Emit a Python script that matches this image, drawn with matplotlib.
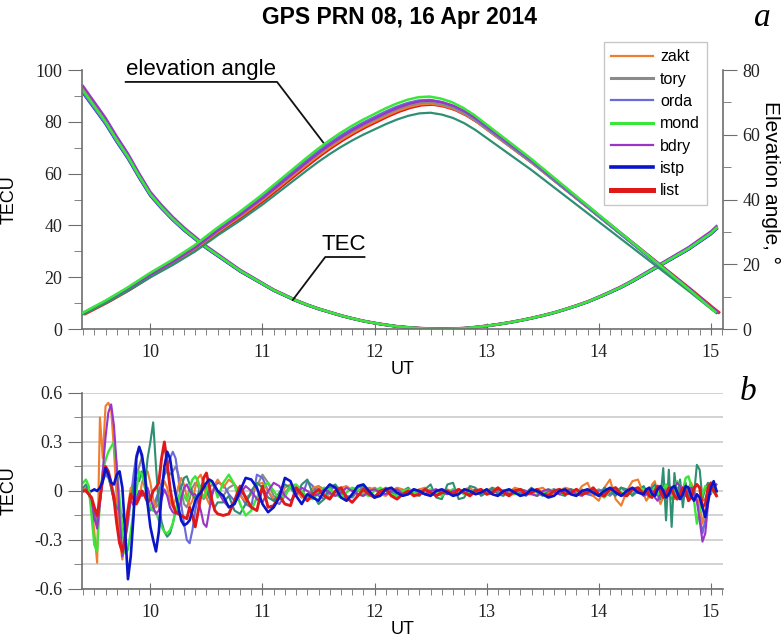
import numpy as np
import matplotlib
matplotlib.use("Agg")
import matplotlib.pyplot as plt
from matplotlib.lines import Line2D
from matplotlib.ticker import MultipleLocator

plt.rcParams['font.family'] = ['Liberation Sans', 'DejaVu Sans']

# ---------------- panel a: TEC and elevation angle ----------------
ut_top = [9.4, 9.5, 9.6, 9.7, 9.8, 9.9, 10.0, 10.1, 10.2, 10.3,
          10.4, 10.5, 10.6, 10.7, 10.8, 10.9, 11.0, 11.1, 11.2, 11.3,
          11.4, 11.5, 11.6, 11.7, 11.8, 11.9, 12.0, 12.1, 12.2, 12.3,
          12.4, 12.5, 12.6, 12.7, 12.8, 12.9, 13.0, 13.1, 13.2, 13.3,
          13.4, 13.5, 13.6, 13.7, 13.8, 13.9, 14.0, 14.1, 14.2, 14.3,
          14.4, 14.5, 14.6, 14.7, 14.8, 14.9, 15.0, 15.05]
tec_base = [92, 86, 80, 73, 66.5, 59, 52, 47, 42.5, 38.5,
            35, 31.5, 28.5, 25.5, 22.5, 20, 17.5, 15, 13, 11,
            9.3, 7.8, 6.5, 5.2, 4.1, 3.1, 2.3, 1.6, 1.0, 0.6,
            0.3, 0.1, 0.0, 0.1, 0.3, 0.7, 1.2, 1.8, 2.5, 3.3,
            4.2, 5.2, 6.3, 7.6, 9.0, 10.5, 12.3, 14.2, 16.2, 18.5,
            21, 23.5, 26, 28.5, 31, 34, 37, 39]
elev_base = [4.8, 6.6, 8.4, 10.4, 12.4, 14.6, 16.8, 18.8, 20.8, 23.0,
             25.2, 27.8, 30.4, 32.8, 35.2, 37.8, 40.4, 43.2, 46.0, 48.8,
             51.6, 54.3, 56.8, 59.1, 61.2, 63.1, 64.8, 66.5, 68.0, 69.2,
             70.0, 70.2, 69.6, 68.5, 66.8, 64.6, 62.0, 59.4, 56.8, 54.2,
             51.6, 48.8, 46.0, 43.2, 40.4, 37.6, 34.8, 32.0, 29.2, 26.4,
             23.6, 20.8, 18.0, 15.2, 12.4, 9.5, 6.6, 5.2]

stations = ['list', 'istp', 'zakt', 'tory', 'orda', 'bdry', 'extra', 'mond']
elev_peak = [69.4, 70.4, 69.6, 70.0, 70.8, 70.6, 66.8, 71.8]   # deg, per station
elev_shift = [0.02, 0.0, 0.01, 0.0, -0.01, 0.01, 0.0, -0.01]   # h
tec_scale = [1.0, 0.99, 1.01, 1.0, 0.99, 1.02, 1.0, 1.0]

colors = {'zakt': '#f07c2e', 'tory': '#8a8a8a', 'orda': '#6a6ad8',
          'mond': '#3ae63a', 'bdry': '#9a35c8', 'istp': '#0a14c8',
          'list': '#e01818', 'extra': '#2f8f72'}
widths = {'zakt': 1.6, 'tory': 1.6, 'orda': 1.6, 'mond': 1.8, 'bdry': 1.6,
          'istp': 2.0, 'list': 2.2, 'extra': 1.6}

# ---------------- panel b: detrended TEC ----------------
ut_bot = np.concatenate([np.linspace(9.4, 10.6, 49),
                         np.linspace(10.65, 14.4, 76),
                         np.linspace(14.425, 15.05, 26)])
nan = np.nan

dtec_zakt = [
    0.00, 0.02, -0.02, -0.08, -0.25, -0.44, 0.45, 0.20, 0.52, 0.54,
    0.50, 0.25, -0.05, -0.30, -0.42, -0.30, -0.10, 0.02, 0.00, -0.08,
    -0.05, 0.05, 0.10, 0.12, 0.05, -0.05, -0.10, -0.08, 0.00, 0.06,
    0.02, -0.06, -0.10, -0.05, 0.03, 0.08, 0.04, -0.04, -0.09, -0.06,
    0.02, 0.08, 0.10, 0.04, -0.04, -0.08, -0.03, 0.04, 0.07,
    0.02, 0.07, 0.04, -0.03, -0.06, -0.02, 0.04, 0.05, 0.00, -0.05,
    -0.04, 0.02, 0.04, 0.00, -0.04, -0.03, 0.02, 0.03, -0.01, -0.04,
    -0.02, 0.02, 0.03, 0.00, -0.03, -0.01, 0.02, 0.01, -0.02, -0.03,
    0.00, 0.02, 0.01, -0.02, -0.01, 0.01, 0.02, -0.01, -0.02, 0.00,
    0.01, -0.01, -0.02, 0.01, 0.02, -0.01, -0.02, 0.00, 0.02, 0.01,
    -0.02, -0.01, 0.02, 0.01, -0.02, -0.02, 0.01, 0.02, -0.01, -0.03,
    0.00, 0.02, 0.01, -0.02, 0.03, 0.05, -0.03, -0.06, 0.02, 0.07,
    -0.05, -0.09, 0.00, 0.06, 0.07, -0.02,
    -0.06, -0.03, 0.04, 0.06, -0.02, -0.08, -0.04, 0.03, 0.05, -0.02,
    -0.05, 0.00, 0.04, 0.01, -0.03, 0.02, 0.05, 0.00, -0.04, -0.08,
    -0.20, -0.12, -0.02, 0.03, 0.01, -0.02]
dtec_tory = [
    0.00, 0.02, 0.00, -0.06, -0.14, -0.18, -0.06, 0.07, 0.12, 0.09,
    0.02, -0.05, -0.12, -0.20, -0.25, -0.22, -0.12, -0.02, 0.06, 0.10,
    0.15, 0.21, 0.12, -0.02, -0.10, -0.12, -0.08, -0.02, 0.04, 0.10,
    0.12, 0.10, 0.12, 0.15, 0.10, 0.00, -0.08, -0.10, -0.05, 0.02,
    0.05, 0.03, -0.02, -0.05, -0.03, 0.02, 0.04, 0.02, -0.02,
    -0.03, 0.02, 0.04, 0.00, -0.04, -0.02, 0.03, 0.10, 0.05, -0.03,
    -0.05, -0.01, 0.03, 0.02, -0.02, -0.04, 0.00, 0.03, 0.01, -0.02,
    -0.03, 0.00, 0.02, 0.01, -0.02, -0.03, 0.00, 0.02, 0.00, -0.02,
    -0.01, 0.01, 0.00, -0.02, -0.01, 0.01, 0.00, -0.02, -0.01, 0.01,
    0.00, -0.02, -0.01, 0.01, 0.00, -0.02, -0.01, 0.01, 0.00, -0.01,
    -0.02, 0.00, 0.01, -0.01, -0.02, 0.00, 0.01, -0.01, -0.02, 0.00,
    0.01, -0.01, -0.02, 0.00, 0.01, -0.02, -0.01, 0.01, -0.01, -0.03,
    0.00, 0.02, -0.01, -0.02, 0.01, 0.00,
    -0.02, 0.00, 0.02, 0.00, -0.02, -0.01, 0.03, -0.04, 0.02, -0.05,
    0.02, 0.00, -0.02, 0.01, 0.02, -0.01, -0.03, 0.00, 0.04, 0.02,
    -0.06, -0.05, 0.00, 0.02, 0.01, -0.01]
dtec_orda = [
    0.00, 0.01, -0.01, -0.05, -0.12, -0.16, -0.06, 0.06, 0.10, 0.08,
    0.03, -0.02, -0.08, -0.18, -0.28, -0.30, -0.20, -0.05, 0.10, 0.22,
    0.27, 0.20, 0.05, -0.08, -0.12, -0.10, -0.05, 0.00, 0.05, 0.10,
    0.15, 0.20, 0.24, 0.20, 0.08, -0.08, -0.20, -0.30, -0.32, -0.24,
    -0.12, -0.04, 0.02, 0.04, 0.00, -0.04, -0.02, 0.03, 0.05,
    0.04, -0.02, -0.06, -0.02, -0.08, -0.10, 0.10, 0.08, 0.00, -0.06,
    -0.08, -0.03, 0.03, 0.01, -0.04, 0.06, 0.03, -0.03, -0.05, 0.00,
    0.03, 0.01, -0.03, -0.04, 0.00, 0.02, -0.01, -0.03, -0.02, 0.01,
    0.01, -0.02, -0.03, 0.00, 0.01, -0.01, -0.02, 0.00, 0.01, -0.02,
    -0.01, 0.01, 0.00, -0.02, -0.01, 0.01, -0.01, -0.02, 0.01, 0.00,
    -0.02, 0.00, 0.01, -0.01, -0.03, 0.00, 0.01, -0.02, -0.02, 0.01,
    0.00, -0.02, -0.01, 0.01, 0.00, -0.02, -0.03, 0.00, 0.01, -0.02,
    -0.01, 0.02, 0.00, -0.02, 0.01, 0.00,
    -0.02, 0.01, 0.02, -0.01, -0.03, 0.00, 0.02, 0.01, -0.02, -0.03,
    0.00, 0.02, 0.00, -0.03, -0.01, 0.02, 0.00, -0.03, -0.06, -0.14,
    -0.26, -0.18, -0.04, 0.03, 0.01, 0.00]
dtec_mond = [
    0.05, 0.07, 0.03, -0.15, -0.33, -0.37, -0.05, 0.12, 0.19, 0.24,
    0.27, 0.30, 0.15, -0.05, -0.23, -0.38, -0.36, -0.25, -0.12, 0.00,
    0.12, 0.10, 0.04, -0.05, -0.10, -0.12, -0.13, -0.18, -0.22, -0.25,
    -0.26, -0.24, -0.20, -0.12, -0.05, 0.00, -0.03, -0.06, 0.02, 0.07,
    0.09, 0.06, 0.00, -0.04, 0.00, 0.05, 0.06, 0.02, -0.04,
    0.05, 0.10, 0.04, -0.08, -0.15, -0.12, -0.04, 0.02, 0.05, 0.00,
    -0.05, -0.03, 0.03, 0.04, 0.00, -0.04, -0.05, -0.01, 0.02, 0.01,
    -0.02, -0.04, -0.01, 0.02, 0.01, -0.02, -0.03, 0.00, 0.02, 0.00,
    -0.02, -0.03, 0.00, 0.01, -0.01, -0.02, 0.00, 0.01, -0.01, -0.03,
    -0.01, 0.01, 0.00, -0.02, -0.01, 0.01, 0.00, -0.02, -0.01, 0.01,
    0.00, -0.02, -0.02, 0.01, 0.00, -0.01, -0.03, -0.01, 0.01, 0.00,
    -0.02, -0.01, 0.01, 0.00, -0.02, -0.01, 0.01, -0.02, -0.04, 0.00,
    0.02, -0.01, -0.03, 0.00, 0.02, 0.01,
    -0.02, -0.04, 0.00, 0.02, -0.01, -0.03, 0.01, 0.04, 0.00, -0.03,
    0.02, 0.06, 0.03, 0.00, 0.08, 0.09, 0.03, -0.06, -0.20, -0.12,
    -0.02, 0.03, 0.01, -0.01, 0.02, 0.00]
dtec_bdry = [
    0.00, 0.01, -0.02, -0.05, -0.16, -0.23, -0.08, 0.12, 0.33, 0.48,
    0.53, 0.40, 0.15, -0.15, -0.40, -0.30, -0.15, -0.05, -0.09, -0.05,
    0.00, -0.03, -0.02, 0.02, -0.04, -0.10, -0.14, -0.12, -0.05, 0.01,
    -0.03, -0.10, -0.13, -0.14, -0.12, -0.05, 0.02, 0.04, 0.00, -0.02,
    -0.02, -0.06, -0.12, -0.20, -0.22, -0.12, -0.02, 0.03, 0.00,
    -0.06, -0.10, -0.08, -0.02, 0.03, 0.00, -0.05, -0.07, 0.00, 0.05,
    0.03, -0.03, -0.06, -0.02, 0.02, 0.00, -0.03, -0.02, 0.01, -0.01,
    -0.03, -0.01, 0.02, 0.00, -0.02, -0.03, 0.00, 0.01, -0.01, -0.02,
    0.00, 0.01, -0.02, -0.01, 0.01, -0.01, -0.02, 0.00, 0.01, -0.01,
    -0.02, 0.00, 0.01, -0.01, -0.02, 0.01, 0.00, -0.02, -0.01, 0.01,
    0.00, -0.02, -0.01, 0.01, 0.00, -0.02, -0.03, 0.00, 0.01, -0.01,
    -0.02, 0.00, 0.01, -0.02, -0.03, 0.00, 0.01, -0.03, -0.02, 0.01,
    0.00, -0.03, -0.02, 0.01, 0.00, -0.03,
    -0.02, 0.01, 0.00, -0.04, -0.06, -0.02, 0.01, -0.01, -0.03, 0.00,
    0.02, 0.05, 0.03, -0.02, -0.03, 0.00, 0.02, -0.02, -0.06, -0.18,
    -0.31, -0.26, -0.08, 0.03, 0.02, 0.04]
dtec_istp = [
    nan, nan, nan, 0.00, 0.01, 0.00, 0.02, 0.06, 0.14, 0.10,
    0.05, 0.04, 0.10, 0.12, 0.02, -0.25, -0.54, -0.40, -0.15, 0.20,
    0.27, 0.22, 0.10, -0.08, -0.22, -0.30, -0.37, -0.25, -0.02, 0.15,
    0.24, 0.20, 0.08, -0.02, -0.10, -0.18, -0.21, -0.20, -0.18, -0.12,
    -0.06, -0.03, -0.01, 0.02, 0.05, 0.07, 0.06, 0.03, 0.00,
    -0.03, -0.10, -0.08, 0.00, 0.08, 0.07, 0.02, -0.08, -0.13, -0.10,
    -0.04, 0.08, 0.06, -0.03, -0.08, -0.02, -0.04, -0.06, 0.00, 0.04,
    0.02, -0.04, -0.06, -0.02, 0.03, 0.04, 0.00, -0.04, -0.03, 0.01,
    0.02, -0.01, -0.03, -0.02, 0.01, 0.00, -0.02, -0.03, 0.00, 0.01,
    -0.01, -0.03, -0.02, 0.01, 0.00, -0.02, -0.01, 0.01, -0.02, -0.03,
    0.00, 0.01, -0.01, -0.03, -0.02, 0.01, 0.00, -0.02, -0.04, -0.03,
    0.00, 0.01, -0.02, -0.03, 0.00, 0.01, -0.01, -0.03, 0.00, 0.02,
    -0.01, -0.03, 0.00, 0.02, -0.01, -0.02,
    0.01, 0.02, -0.02, -0.03, 0.01, 0.03, 0.00, -0.04, -0.02, 0.02,
    0.03, -0.01, -0.05, -0.02, 0.03, 0.02, -0.03, -0.06, -0.02, -0.04,
    -0.10, -0.16, -0.06, 0.02, 0.06, 0.00]
dtec_list = [
    0.00, 0.00, -0.02, -0.04, -0.10, -0.15, -0.05, 0.08, 0.15, 0.12,
    0.05, -0.05, -0.20, -0.32, -0.37, -0.28, -0.12, -0.02, -0.05, -0.08,
    -0.04, 0.00, -0.03, -0.07, -0.05, 0.00, 0.02, 0.05, 0.20, 0.30,
    0.17, 0.02, -0.08, -0.13, -0.14, -0.15, -0.16, -0.17, -0.10, -0.15,
    -0.22, -0.13, -0.03, 0.08, 0.11, 0.03, -0.06, -0.12, -0.14,
    -0.15, -0.14, -0.06, 0.03, -0.04, -0.10, -0.12, 0.03, -0.10, -0.09,
    -0.03, -0.08, -0.09, 0.02, -0.02, -0.06, -0.02, 0.01, -0.03, -0.05,
    0.00, 0.02, -0.04, -0.07, -0.03, 0.01, -0.02, -0.04, 0.00, 0.01,
    -0.03, -0.05, -0.02, 0.00, -0.03, -0.02, 0.01, -0.01, -0.03, -0.01,
    0.00, -0.02, 0.01, -0.01, -0.03, 0.00, 0.01, -0.02, -0.01, 0.02,
    -0.01, -0.03, 0.00, 0.01, -0.02, -0.01, 0.01, -0.02, -0.03, 0.00,
    0.01, -0.02, -0.01, 0.01, -0.02, -0.01, 0.02, -0.02, -0.03, 0.01,
    0.02, -0.02, -0.03, 0.01, 0.02, -0.02,
    0.01, -0.03, -0.04, 0.00, 0.03, 0.00, -0.04, -0.02, 0.02, 0.01,
    -0.03, -0.05, -0.02, 0.02, 0.00, -0.06, -0.04, 0.02, 0.04, 0.02,
    -0.10, -0.08, 0.02, 0.05, 0.00, -0.03]
# unlabelled station drawn in sea green on the original
dtec_extra = [
    0.02, 0.04, 0.00, -0.08, -0.18, -0.20, -0.05, 0.08, 0.14, 0.10,
    0.02, -0.06, -0.10, -0.12, -0.15, -0.20, -0.15, -0.05, 0.03, 0.08,
    0.06, 0.12, 0.02, 0.20, 0.30, 0.42, 0.15, -0.08, -0.19, -0.25,
    -0.28, -0.26, -0.20, -0.12, -0.05, 0.02, 0.08, 0.09, 0.04, -0.02,
    -0.05, -0.02, 0.03, 0.05, 0.02, -0.04, -0.08, -0.10, -0.07,
    -0.07, -0.03, -0.12, -0.14, -0.08, 0.00, 0.05, 0.02, -0.04, -0.06,
    -0.01, 0.04, 0.02, -0.03, 0.04, 0.07, -0.02, -0.08, -0.05, 0.02,
    0.04, -0.01, -0.05, -0.03, 0.02, 0.03, -0.02, -0.04, 0.00, 0.02,
    -0.01, -0.03, 0.00, 0.02, -0.02, -0.03, 0.01, 0.04, -0.04, -0.05,
    0.04, 0.05, -0.05, -0.04, 0.03, 0.02, -0.03, -0.01, 0.02, -0.02,
    -0.03, 0.01, 0.00, -0.02, -0.01, 0.02, -0.01, -0.03, 0.00, 0.01,
    -0.02, -0.03, 0.01, 0.00, -0.02, 0.01, -0.01, -0.03, 0.02, 0.00,
    -0.03, 0.02, 0.01, -0.03, 0.00, 0.03,
    0.00, -0.03, 0.02, 0.04, -0.02, -0.05, 0.14, -0.18, 0.13, -0.22,
    0.11, -0.05, 0.07, -0.10, 0.05, -0.06, 0.03, -0.02, 0.16, 0.13,
    -0.05, 0.02, 0.05, -0.02, 0.03, 0.00]

dtec = {'zakt': dtec_zakt, 'tory': dtec_tory, 'orda': dtec_orda,
        'mond': dtec_mond, 'bdry': dtec_bdry, 'istp': dtec_istp,
        'list': dtec_list, 'extra': dtec_extra}
bottom_order = ['tory', 'orda', 'zakt', 'extra', 'mond', 'bdry', 'list', 'istp']

legend_names = ['zakt', 'tory', 'orda', 'mond', 'bdry', 'istp', 'list']
legend_lw = [1.6, 2.2, 1.6, 2.2, 1.6, 2.6, 3.6]

spine_c = '#6e6e6e'
tick_font = 'Liberation Serif'

fig = plt.figure(figsize=(7.81, 6.37), dpi=100)
ax1 = fig.add_axes([0.105, 0.4835, 0.821, 0.4066])
ax2 = ax1.twinx()
ax3 = fig.add_axes([0.105, 0.0754, 0.821, 0.3077])

ut_top = np.array(ut_top)
for i, st in enumerate(stations):
    tec = np.array(tec_base) * tec_scale[i]
    ax1.plot(ut_top, tec, color=colors[st], lw=widths[st], zorder=2)
    el = np.array(elev_base) * elev_peak[i] / max(elev_base)
    ax2.plot(ut_top + elev_shift[i], el, color=colors[st], lw=widths[st])

for ax in (ax1, ax2, ax3):
    ax.set_xlim(9.39, 15.11)
    ax.xaxis.set_major_locator(MultipleLocator(1))
    ax.xaxis.set_minor_locator(MultipleLocator(0.1))
    for s in ax.spines.values():
        s.set_color(spine_c)
        s.set_linewidth(1.2)
    ax.tick_params(which='both', colors=spine_c, labelcolor='#222222',
                   labelsize=13, labelfontfamily=tick_font)
    ax.tick_params(axis='x', which='major', direction='inout', length=9, pad=6)
    ax.tick_params(axis='x', which='minor', direction='out', length=4)
    ax.tick_params(axis='y', which='major', direction='out', length=10, pad=4)
    ax.tick_params(axis='y', which='minor', direction='out', length=6)

ax1.set_ylim(0, 100)
ax1.yaxis.set_major_locator(MultipleLocator(20))
ax1.yaxis.set_minor_locator(MultipleLocator(10))
ax1.spines['top'].set_visible(False)
ax1.spines['right'].set_visible(False)
ax1.set_ylabel('TECU', fontsize=13)
ax1.yaxis.set_label_coords(-0.1, 0.5)
ax1.set_xlabel('UT', fontsize=13, labelpad=0)

ax2.set_ylim(0, 80)
ax2.yaxis.set_major_locator(MultipleLocator(20))
ax2.yaxis.set_minor_locator(MultipleLocator(10))
ax2.spines['top'].set_visible(False)
ax2.spines['left'].set_visible(False)
ax2.spines['bottom'].set_visible(False)
ax2.tick_params(axis='x', which='both', length=0, labelbottom=False)

# annotations with underline + leader
ax1.text(9.78, 96.0, 'elevation angle', fontsize=16, ha='left', va='bottom')
ax1.plot([9.78, 11.13, 11.56], [95.4, 95.4, 71], color='#111111', lw=1.3,
         clip_on=False, zorder=5)
ax1.text(11.53, 28.6, 'TEC', fontsize=16, ha='left', va='bottom')
ax1.plot([11.91, 11.56, 11.27], [27.8, 27.8, 11.2], color='#111111', lw=1.3,
         zorder=5)

# panel b
ut_bot = np.array(ut_bot)
for st in bottom_order:
    ax3.plot(ut_bot, dtec[st], color=colors[st], lw=widths[st] * 0.95)
ax3.set_ylim(-0.6, 0.6)
ax3.yaxis.set_minor_locator(MultipleLocator(0.15))
ax3.set_yticks([-0.6, -0.3, 0, 0.3, 0.6])
ax3.set_yticklabels(['-0.6', '-0.3', '0', '0.3', '0.6'])
ax3.grid(True, which='both', axis='y', color='#cfcfcf', lw=1.3)
ax3.set_axisbelow(True)
ax3.spines['top'].set_visible(False)
ax3.spines['right'].set_visible(False)
ax3.set_ylabel('TECU', fontsize=13)
ax3.yaxis.set_label_coords(-0.1, 0.5)
ax3.set_xlabel('UT', fontsize=13, labelpad=0)

handles = [Line2D([], [], color=colors[n], lw=w)
           for n, w in zip(legend_names, legend_lw)]
fig.legend(handles, legend_names, loc='upper left',
           bbox_to_anchor=(604 / 781, 1 - 42 / 637), fontsize=11.5,
           frameon=True, fancybox=False, edgecolor='#c8c8c8',
           framealpha=1, handlelength=2.6, handletextpad=0.45,
           labelspacing=0.46, borderpad=0.45, borderaxespad=0)

fig.text(0.512, 0.972, 'GPS PRN 08, 16 Apr 2014', fontsize=16.5,
         fontweight='bold', ha='center', va='center')
fig.text(0.976, 0.972, 'a', fontsize=24, fontstyle='italic',
         family='Liberation Serif', ha='center', va='center')
fig.text(0.958, 0.385, 'b', fontsize=24, fontstyle='italic',
         family='Liberation Serif', ha='center', va='center')
fig.text(0.986, 0.713, 'Elevation angle, \u00b0', fontsize=15,
         rotation=270, ha='center', va='center')

fig.savefig('out.png', dpi=100)
